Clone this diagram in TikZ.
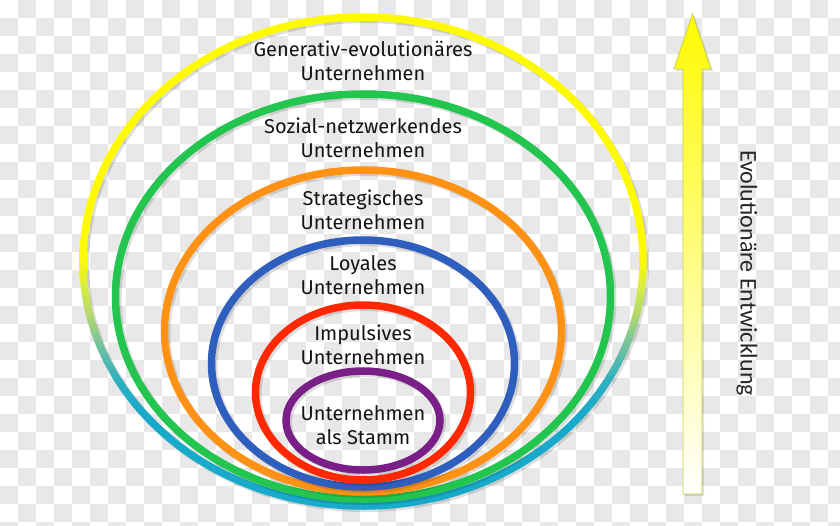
\documentclass[tikz,border=0pt]{standalone}
\usepackage{fontspec}
\setmainfont{Fira Sans}
\newfontfamily\sidefont{Carlito}

\definecolor{checkgray}{RGB}{232,232,232}
\definecolor{ringyellow}{RGB}{255,250,0}
\definecolor{ringlime}{RGB}{216,236,64}
\definecolor{ringlightgreen}{RGB}{176,216,112}
\definecolor{ringseagreen}{RGB}{112,192,160}
\definecolor{ringteal}{RGB}{48,176,192}
\definecolor{ringcyan}{RGB}{24,170,202}
\definecolor{ringgreen}{RGB}{34,197,78}
\definecolor{ringorange}{RGB}{255,146,20}
\definecolor{ringblue}{RGB}{46,94,190}
\definecolor{ringred}{RGB}{255,40,0}
\definecolor{ringpurple}{RGB}{122,30,136}
\definecolor{arrowedge}{RGB}{196,210,70}
\definecolor{labeltext}{RGB}{20,20,20}
\definecolor{sidetext}{RGB}{40,40,40}

\pgfdeclareverticalshading{ringshade}{100bp}{color(0bp)=(ringcyan); color(34.7bp)=(ringcyan); color(38.1bp)=(ringteal); color(41.4bp)=(ringseagreen); color(44.6bp)=(ringlightgreen); color(47.6bp)=(ringlime); color(50.2bp)=(ringyellow); color(100bp)=(ringyellow)}

\begin{document}
\begin{tikzpicture}[x=1pt,y=-1pt,
  ring/.style={line width=7.5pt},
  ringshadow/.style={line width=8pt, draw=black, draw opacity=0.13},
  lbl/.style={font=\fontsize{20}{24}\selectfont, text=labeltext, align=center, inner sep=0pt},
]
\useasboundingbox (0,0) rectangle (840,525);
\fill[white] (0,0) rectangle (840,525);
\begin{scope}
\clip (0,0) rectangle (840,525);
\foreach \i in {0,...,46}{\foreach \j in {0,...,29}{
  \pgfmathtruncatemacro\cellodd{mod(\i+\j,2)}
  \ifnum\cellodd=1 \fill[checkgray] (\i*18,\j*18) rectangle ++(18,18);\fi
}}
\end{scope}

% outer ring (gradient)
\draw[ringshadow] (365,263.5) ellipse (280 and 244.5);
\shade[shading=ringshade, even odd rule] (363,261.5) ellipse (283.75 and 248.25) (363,261.5) ellipse (276.25 and 240.75);
% green
\draw[ringshadow] (365,298.5) ellipse (247.5 and 202.5);
\draw[ring, ringgreen] (363,296.5) ellipse (247.5 and 202.5);
% orange
\draw[ringshadow] (365,333) ellipse (198.5 and 161);
\draw[ring, ringorange] (363,331) ellipse (198.5 and 161);
% blue
\draw[ringshadow] (365,365.5) ellipse (151.5 and 123.5);
\draw[ring, ringblue] (363,363.5) ellipse (151.5 and 123.5);
% red
\draw[ringshadow] (365,394.5) ellipse (107.5 and 87.5);
\draw[ring, ringred] (363,392.5) ellipse (107.5 and 87.5);
% purple
\draw[ringshadow] (365,422.5) ellipse (77 and 49.5);
\draw[ring, ringpurple] (363,420.5) ellipse (77 and 49.5);

% labels
\node[lbl] (gen) at (363,60.5) {Generativ-evolutionäres\\Unternehmen};
\node[lbl] (soz) at (363,138) {Sozial-netzwerkendes\\Unternehmen};
\node[lbl] (strat) at (363,209.5) {Strategisches\\Unternehmen};
\node[lbl] (loy) at (363,275.5) {Loyales\\Unternehmen};
\node[lbl] (imp) at (363,344.5) {Impulsives\\Unternehmen};
\node[lbl] (stamm) at (363,425.5) {Unternehmen\\als Stamm};

% arrow
\fill[black, opacity=0.12] (685,496) -- (685,71) -- (676,71) -- (694.5,16) -- (713,71) -- (704,71) -- (704,496) -- cycle;
\shadedraw[top color=ringyellow, bottom color=white, draw=arrowedge, line width=0.8pt] (683,494) -- (683,69) -- (674,69) -- (692.5,14) -- (711,69) -- (702,69) -- (702,494) -- cycle;

\node[font=\sidefont\fontsize{24}{28}\selectfont, text=sidetext, rotate=-90, inner sep=0pt] (evo) at (747,273) {Evolutionäre Entwicklung};
\end{tikzpicture}
\end{document}
